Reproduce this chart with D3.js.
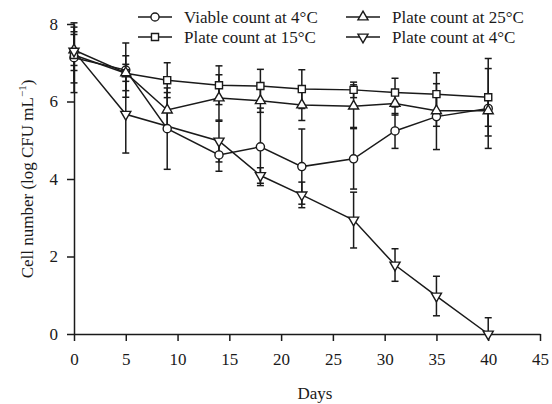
<!DOCTYPE html>
<html>
<head>
<meta charset="utf-8">
<script src="https://cdn.jsdelivr.net/npm/d3@7"></script>
<style>
  body { margin: 0; background: #fff; }
  svg { display: block; font-family: "Liberation Serif", "DejaVu Serif", serif; }
</style>
</head>
<body>
<div id="chart"></div>
<script>
// days sampled
const days = [0, 5, 9, 14, 18, 22, 27, 31, 35, 40]
const daysCold = [0, 5, 14, 18, 22, 27, 31, 35, 40]

// log CFU / mL
const viable4 = [7.13, 6.81, 5.30, 4.62, 4.83, 4.32, 4.52, 5.24, 5.61, 5.82]
const viable4Err = [0.9, 0.7, 1.05, 0.42, 1.0, 0.97, 0.78, 0.45, 0.85, 1.03]
const plate15 = [7.20, 6.73, 6.55, 6.42, 6.40, 6.32, 6.30, 6.23, 6.19, 6.11]
const plate15Err = [0.72, 0.45, 0.45, 0.5, 0.43, 0.5, 0.2, 0.37, 0.55, 1.0]
const plate25 = [7.33, 6.74, 5.78, 6.09, 6.02, 5.91, 5.88, 5.95, 5.76, 5.76]
const plate25Err = [0.4, 0.22, 0.45, 0.6, 0.3, 0.4, 0.55, 0.3, 0.4, 0.4]
const plate4 = [7.30, 5.67, 4.98, 4.09, 3.59, 2.94, 1.78, 0.98, 0.0]
const plate4Err = [0.5, 1.0, 0.54, 0.2, 0.33, 0.72, 0.42, 0.51, 0.42]

const xTicks = [0, 5, 10, 15, 20, 25, 30, 35, 40, 45]
const yTicks = [0, 2, 4, 6, 8]

const width = 552
const height = 404
const marginLeft = 74
const marginRight = 12
const marginTop = 24
const marginBottom = 70
const ink = "#1a1a1a"

const series = [
    {name: "Viable count at 4°C", x: days, y: viable4, err: viable4Err, shape: "circle"},
    {name: "Plate count at 15°C", x: days, y: plate15, err: plate15Err, shape: "square"},
    {name: "Plate count at 25°C", x: days, y: plate25, err: plate25Err, shape: "up"},
    {name: "Plate count at 4°C", x: daysCold, y: plate4, err: plate4Err, shape: "down"}
]

const xScale = d3.scaleLinear([0, 45], [marginLeft, width - marginRight])
const yScale = d3.scaleLinear([0, 8], [height - marginBottom, marginTop])

const symbolPath = (shape) => {
    if (shape === "circle") return d3.symbol(d3.symbolCircle, 52)()
    if (shape === "square") return d3.symbol(d3.symbolSquare, 50)()
    return d3.symbol(d3.symbolTriangle, 44)()
}
const symbolRotate = (shape) => shape === "down" ? " rotate(180)" : ""

const svg = d3.select("#chart")
    .append("svg")
    .attr("width", width)
    .attr("height", height)
    .attr("viewBox", [0, 0, width, height])

// x axis
svg.append("g")
    .attr("transform", `translate(0,${height - marginBottom})`)
    .call(d3.axisBottom(xScale).tickValues(xTicks).tickSize(7).tickPadding(12).tickSizeOuter(0))
    .call(g => g.selectAll("text").attr("font-size", 17).attr("font-family", "Liberation Serif").attr("fill", ink))
    .call(g => g.selectAll("line, path").attr("stroke", ink).attr("stroke-width", 1.5))

// y axis
svg.append("g")
    .attr("transform", `translate(${marginLeft},0)`)
    .call(d3.axisLeft(yScale).tickValues(yTicks).tickSize(7).tickPadding(9).tickSizeOuter(0))
    .call(g => g.selectAll("text").attr("font-size", 17).attr("font-family", "Liberation Serif").attr("fill", ink))
    .call(g => g.selectAll("line, path").attr("stroke", ink).attr("stroke-width", 1.5))

svg.append("text")
    .attr("x", (marginLeft + width - marginRight) / 2 + 8)
    .attr("y", 399)
    .attr("text-anchor", "middle")
    .attr("font-size", 17)
    .attr("fill", ink)
    .text("Days")

const yLab = svg.append("text")
    .attr("transform", `translate(33,${(marginTop + height - marginBottom) / 2}) rotate(-90)`)
    .attr("text-anchor", "middle")
    .attr("font-size", 17)
    .attr("fill", ink)
yLab.append("tspan").text("Cell number (log CFU mL")
yLab.append("tspan").attr("font-size", 11).attr("dy", -7).text("−1")
yLab.append("tspan").attr("dy", 7).text(")")

const line = d3.line()

// connecting lines
series.forEach(s => {
    svg.append("path")
        .attr("d", line(s.x.map((d, i) => [xScale(d), yScale(s.y[i])])))
        .attr("fill", "none")
        .attr("stroke", ink)
        .attr("stroke-width", 1.5)
})

// error bars
series.forEach(s => {
    const g = svg.append("g").attr("stroke", ink).attr("stroke-width", 1.5)
    s.x.forEach((d, i) => {
        const cx = xScale(d)
        const hi = s.y[i] + s.err[i]
        const lo = Math.max(0, s.y[i] - s.err[i])
        g.append("line").attr("x1", cx).attr("x2", cx).attr("y1", yScale(hi)).attr("y2", yScale(lo))
        g.append("line").attr("x1", cx - 3.5).attr("x2", cx + 3.5).attr("y1", yScale(hi)).attr("y2", yScale(hi))
        if (lo > 0) {
            g.append("line").attr("x1", cx - 3.5).attr("x2", cx + 3.5).attr("y1", yScale(lo)).attr("y2", yScale(lo))
        }
    })
})

// markers
series.forEach(s => {
    svg.append("g")
        .selectAll("path")
        .data(s.x.map((d, i) => [d, s.y[i]]))
        .join("path")
        .attr("transform", d => `translate(${xScale(d[0])},${yScale(d[1])})` + symbolRotate(s.shape))
        .attr("d", symbolPath(s.shape))
        .attr("fill", "#fff")
        .attr("stroke", ink)
        .attr("stroke-width", 1.4)
})

// legend, two columns
const legendCols = [[138, 172, 184], [346, 380, 392]]
const legendRows = [17, 37]
series.forEach((s, i) => {
    const col = legendCols[Math.floor(i / 2)]
    const ly = legendRows[i % 2]
    const g = svg.append("g")
    g.append("line")
        .attr("x1", col[0]).attr("x2", col[1])
        .attr("y1", ly).attr("y2", ly)
        .attr("stroke", ink).attr("stroke-width", 1.5)
    g.append("path")
        .attr("transform", `translate(${(col[0] + col[1]) / 2},${ly})` + symbolRotate(s.shape))
        .attr("d", symbolPath(s.shape))
        .attr("fill", "#fff")
        .attr("stroke", ink)
        .attr("stroke-width", 1.4)
    g.append("text")
        .attr("x", col[2])
        .attr("y", ly + 6)
        .attr("font-size", 17)
        .attr("fill", ink)
        .text(s.name)
})
</script>
</body>
</html>
